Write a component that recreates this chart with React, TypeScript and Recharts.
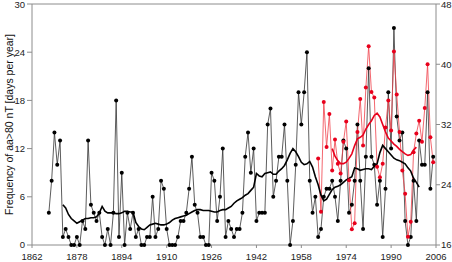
import React from 'react';
import {
  ComposedChart,
  Line,
  XAxis,
  YAxis,
  ReferenceLine,
} from 'recharts';

// yearly days with aa > 80 nT, 1868 - 2005 (left axis)
const aaStartYear = 1868;
const aaDays = [
  4, 8, 14, 10, 13, 1, 2, 1, 0, 0, 1, 0, 3, 2, 13, 5, 4, 3, 4, 1,
  0, 2, 0, 4, 18, 1, 9, 0, 4, 2, 4, 1, 2, 0, 0, 1, 1, 6, 1, 2,
  8, 7, 2, 0, 0, 0, 1, 3, 3, 4, 7, 11, 5, 4, 1, 1, 0, 0, 9, 8,
  3, 6, 12, 1, 3, 2, 1, 2, 2, 4, 11, 14, 9, 12, 3, 4, 4, 4, 15, 17,
  6, 8, 11, 11, 15, 8, 0, 3, 10, 19, 15, 19, 24, 8, 4, 6, 1, 2, 6, 7,
  7, 8, 6, 3, 8, 13, 12, 4, 5, 8, 15, 8, 2, 11, 22, 11, 10, 5, 8, 1,
  7, 19, 12, 27, 16, 13, 14, 3, 0, 1, 8, 3, 13, 10, 10, 19, 7, 11,
];

// running mean of the black series
const aaMeanYears = [
  1873, 1874, 1875, 1876, 1877, 1878, 1879, 1880, 1881, 1882, 1883, 1884, 1885, 1886, 1887,
  1888, 1889, 1890, 1891, 1892, 1893, 1894, 1895, 1896, 1897, 1898, 1899, 1900, 1901, 1902,
  1903, 1904, 1905, 1906, 1907, 1908, 1909, 1910, 1911, 1912, 1913, 1914, 1915, 1916, 1917,
  1918, 1919, 1920, 1921, 1922, 1923, 1924, 1925, 1926, 1927, 1928, 1929, 1930, 1931, 1932,
  1933, 1934, 1935, 1936, 1937, 1938, 1939, 1940, 1941, 1942, 1943, 1944, 1945, 1946, 1947,
  1948, 1949, 1950, 1951, 1952, 1953, 1954, 1955, 1956, 1957, 1958, 1959, 1960, 1961, 1962,
  1963, 1964, 1965, 1966, 1967, 1968, 1969, 1970, 1971, 1972, 1973, 1974, 1975, 1976, 1977,
  1978, 1979, 1980, 1981, 1982, 1983, 1984, 1985, 1986, 1987, 1988, 1989, 1990, 1991, 1992,
  1993, 1994, 1995, 1996, 1997, 1998, 1999, 2000,
];
const aaMean = [
  5.0, 4.6, 3.8, 3.3, 3.0, 2.7, 2.9, 3.1, 3.3, 3.3, 3.4, 3.4, 3.5, 4.0, 4.8,
  4.2, 4.0, 4.0, 4.0, 3.9, 3.9, 4.0, 4.2, 4.2, 4.1, 4.1, 2.8, 2.3, 2.0, 1.9,
  2.2, 2.5, 2.6, 2.7, 2.6, 2.5, 2.5, 2.6, 2.8, 3.1, 3.3, 3.4, 3.5, 3.6, 3.7,
  3.9, 4.1, 4.3, 4.4, 4.4, 4.3, 4.3, 4.3, 4.2, 4.1, 4.1, 4.3, 4.4, 4.4, 4.6,
  4.8, 5.2, 5.5, 5.7, 5.9, 6.2, 6.4, 6.8, 7.2, 8.9, 8.6, 8.5, 8.9, 9.0, 9.1,
  8.8, 8.8, 9.2, 9.5, 9.9, 10.6, 11.4, 12.0, 11.6, 11.0, 10.3, 10.0, 10.1, 10.4, 9.7,
  8.5, 7.5, 6.2, 5.5, 5.7, 6.3, 6.9, 7.2, 7.3, 7.5, 7.8, 8.1, 8.3, 8.5, 9.6,
  9.5, 9.3, 9.4, 9.5, 9.5, 9.4, 9.8, 10.1, 11.5, 12.4, 12.0, 11.6, 11.2, 10.8, 10.6,
  10.5, 10.3, 10.1, 9.6, 9.2, 8.3, 7.8, 7.2,
];

// red series, 1964 - 2005 (right axis)
const redStartYear = 1964;
const redValues = [
  27.5, 20.4, 35.0, 29.0, 33.4, 25.9, 30.0, 26.8, 25.5, 29.7, 32.4, 24.6, 18.1, 18.9,
  31.0, 35.4, 29.2, 36.9, 42.4, 36.3, 35.6, 26.4, 25.0, 26.8, 31.6, 35.2, 31.2, 41.7,
  36.0, 31.0, 25.9, 22.8, 17.1, 19.1, 28.3, 30.8, 32.5, 29.7, 34.2, 40.0, 30.3, 27.0,
];

const redMeanYears = [
  1969, 1970, 1971, 1972, 1973, 1974, 1975, 1976, 1977, 1978, 1979, 1980, 1981, 1982, 1983, 1984,
  1985, 1986, 1987, 1988, 1989, 1990, 1991, 1992, 1993, 1994, 1995, 1996, 1997, 1998, 1999,
];
const redMean = [
  28.8, 27.8, 27.2, 26.8, 26.8, 27.0, 27.5, 28.1, 29.2, 30.1, 30.3, 30.6, 31.4, 32.0, 32.5, 33.2,
  33.5, 33.0, 32.0, 31.0, 30.2, 29.8, 29.4, 29.1, 28.7, 28.4, 28.1, 27.9, 28.0, 28.6, 29.0,
];

const xTicks = [1862, 1878, 1894, 1910, 1926, 1942, 1958, 1974, 1990, 2006];
const leftTicks = [0, 6, 12, 18, 24, 30];
const rightTicks = [16, 24, 32, 40, 48];

const aaData = aaDays.map((v, i) => ({ year: aaStartYear + i, v }));
const aaMeanData = aaMeanYears.map((year, i) => ({ year, v: aaMean[i] }));
const redData = redValues.map((v, i) => ({ year: redStartYear + i, v }));
const redMeanData = redMeanYears.map((year, i) => ({ year, v: redMean[i] }));

const axisGray = '#8c8c8c';
const fontFamily = 'Liberation Sans, Arial, sans-serif';
const tickFont = { fill: '#222', fontSize: 9.5, fontFamily };

// y tick that keeps the top label inside the picture
const YTick = (props: any) => {
  const { x, y, payload, textAnchor } = props;
  const cy = Math.max(y, 5);
  return (
    <text x={x} y={cy} dy="0.355em" textAnchor={textAnchor} {...tickFont}>
      {payload.value}
    </text>
  );
};

const App: React.FC = () => {
  return (
    <div style={{ position: 'absolute', left: 0, top: 0, background: '#fff' }}>
      <ComposedChart
        width={452}
        height={262}
        margin={{ top: 4, right: 0, bottom: 0, left: 0 }}
      >
        <XAxis
          type="number"
          dataKey="year"
          domain={[1862, 2006]}
          ticks={xTicks}
          allowDuplicatedCategory={false}
          height={17}
          tickSize={3}
          tickMargin={5}
          stroke={axisGray}
          tick={tickFont}
          interval={0}
        />
        <YAxis
          yAxisId="left"
          type="number"
          domain={[0, 30]}
          ticks={leftTicks}
          width={32}
          tickSize={5}
          tickMargin={2}
          stroke={axisGray}
          tick={<YTick />}
          interval={0}
          label={{
            value: 'Frequency of aa>80 nT [days per year]',
            angle: -90,
            position: 'insideLeft',
            offset: 0,
            dx: 9,
            style: { fill: '#111', fontSize: 10.5, fontFamily, textAnchor: 'middle' },
          }}
        />
        <YAxis
          yAxisId="right"
          orientation="right"
          type="number"
          domain={[16, 48]}
          ticks={rightTicks}
          width={16}
          tickSize={4}
          tickMargin={1}
          stroke={axisGray}
          tick={<YTick />}
          interval={0}
        />
        <ReferenceLine yAxisId="left" y={30} stroke={axisGray} strokeWidth={1} />
        <Line
          yAxisId="left"
          data={aaData}
          dataKey="v"
          stroke="#333"
          strokeWidth={0.8}
          dot={{ r: 2, fill: '#000', stroke: '#000', strokeWidth: 0 }}
          isAnimationActive={false}
        />
        <Line
          yAxisId="right"
          data={redData}
          dataKey="v"
          stroke="#f0404a"
          strokeWidth={0.8}
          dot={{ r: 2, fill: '#e8001c', stroke: '#e8001c', strokeWidth: 0 }}
          isAnimationActive={false}
        />
        <Line
          yAxisId="left"
          data={aaMeanData}
          dataKey="v"
          stroke="#000"
          strokeWidth={1.6}
          dot={false}
          isAnimationActive={false}
        />
        <Line
          yAxisId="right"
          data={redMeanData}
          dataKey="v"
          stroke="#e8001c"
          strokeWidth={1.6}
          dot={false}
          isAnimationActive={false}
        />
      </ComposedChart>
    </div>
  );
};

export default App;
